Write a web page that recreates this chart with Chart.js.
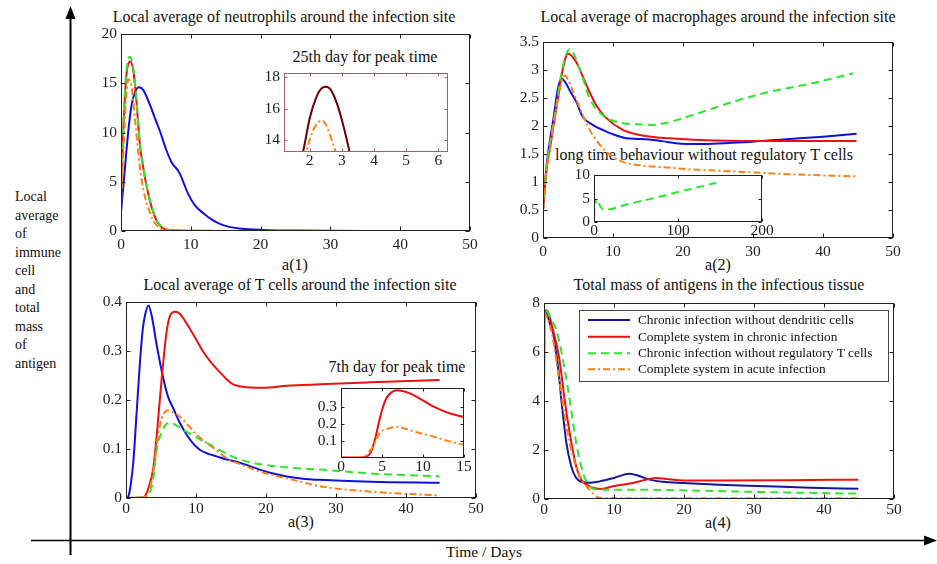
<!DOCTYPE html>
<html><head><meta charset="utf-8">
<script src="https://cdn.jsdelivr.net/npm/chart.js@4/dist/chart.umd.min.js"></script>
<style>
body{margin:0;background:#fff;width:937px;height:564px;overflow:hidden;position:relative;font-family:"Liberation Serif",serif;color:#111}
.c{position:absolute}
.t{position:absolute;white-space:nowrap;transform:translate(-50%,-50%);line-height:1;font-size:16px}
.s{font-size:16px}
.u{font-size:15.5px}
#ylab{position:absolute;left:15px;top:188px;font-size:14px;line-height:18.5px}
</style></head><body>
<svg width="937" height="564" style="position:absolute;left:0;top:0">
<line x1="70.5" y1="16" x2="70.5" y2="555" stroke="#000" stroke-width="2"/>
<polygon points="70.5,6 65.5,19 75.5,19" fill="#000"/>
<line x1="31" y1="540.5" x2="926" y2="540.5" stroke="#000" stroke-width="1.5"/>
<polygon points="937,540.5 924,535.5 924,545.5" fill="#000"/>
</svg>
<div id="ylab">Local<br>average<br>of<br>immune<br>cell<br>and<br>total<br>mass<br>of<br>antigen</div>
<div class="t" style="left:284px;top:17px">Local average of neutrophils around the infection site</div>
<div class="t" style="left:718px;top:17px">Local average of macrophages around the infection site</div>
<div class="t" style="left:300px;top:285px">Local average of T cells around the infection site</div>
<div class="t" style="left:719px;top:285px">Total mass of antigens in the infectious tissue</div>
<div class="t" style="left:365px;top:57px">25th day for peak time</div>
<div class="t" style="left:704px;top:155px">long time behaviour without regulatory T cells</div>
<div class="t" style="left:397px;top:367px">7th day for peak time</div>
<div class="t s" style="left:295px;top:265px">a(1)</div>
<div class="t s" style="left:718px;top:265px">a(2)</div>
<div class="t s" style="left:301px;top:522px">a(3)</div>
<div class="t s" style="left:718px;top:523px">a(4)</div>
<div class="t u" style="left:484px;top:552px">Time / Days</div>
<script>
// ---------------- DATA ----------------
const seriesNames = ['Chronic infection without dendritic cells','Complete system in chronic infection','Chronic infection without regulatory T cells','Complete system in acute infection'];
const timeTicks = [0,10,20,30,40,50];
const neutTicks = [0,5,10,15,20];
const macTicks = [0,0.5,1,1.5,2,2.5,3,3.5];
const tcellTicks = [0,0.1,0.2,0.3,0.4];
const antiTicks = [0,2,4,6,8];
const inset1XTicks = [2,3,4,5,6], inset1YTicks = [14,16,18];
const inset2XTicks = [0,100,200], inset2YTicks = [0,5,10];
const inset3XTicks = [0,5,10,15], inset3YTicks = [0.1,0.2,0.3];

// a(1) neutrophils
const neutBlue = [[0,2],[0.3,4.2],[0.7,7.5],[1.1,10.5],[1.5,12.7],[2,14.1],[2.6,14.6],[3.2,14.3],[4.15,12.8],[5,11.2],[5.6,10.1],[6.4,8.4],[7.3,6.9],[8.3,6.0],[8.8,5.2],[9.6,3.8],[10.6,2.6],[11.8,1.8],[12.9,1.2],[14,0.78],[15.5,0.42],[17,0.25],[19,0.14],[21,0.08],[25,0.04],[30,0.02],[35,0.01],[45,0]];
const neutRed = [[0,4],[0.33,10.3],[0.8,16],[1.35,17.2],[1.8,16.1],[2.2,13.3],[2.7,8.8],[3.2,6.4],[3.7,4.4],[4.4,2.4],[5.1,1.05],[5.6,0.55],[6.1,0.25],[7,0.1],[8,0.05],[10,0.02],[17,0]];
const neutGreen = [[0,3],[0.33,10.6],[0.8,16.4],[1.3,17.7],[1.8,16.3],[2.2,13.4],[2.7,8.9],[3.2,6.5],[3.7,4.5],[4.4,2.5],[5.1,1.1],[5.6,0.6],[6.1,0.27],[7,0.1],[8,0.05],[10,0.03],[16,0]];
const neutOrange = [[0,2.8],[0.33,7.9],[0.57,11.6],[0.8,14.2],[1.05,15.4],[1.5,14.7],[2,11.3],[2.7,6.5],[3.2,4.2],[3.7,2.8],[4.6,1.1],[5.6,0.27],[6.5,0.08],[8,0.03],[17,0]];
// inset of a(1)
const insetNeutMaroon = [[1.6,12],[1.79,13.27],[2.0,15.4],[2.2,16.7],[2.35,17.25],[2.5,17.38],[2.65,17.2],[2.85,16.3],[3.05,14.9],[3.24,13.27],[3.35,12.2]];
const insetNeutOrange = [[1.85,12.8],[1.95,13.7],[2.1,14.6],[2.25,15.1],[2.38,15.25],[2.5,15.0],[2.62,14.4],[2.72,13.8],[2.81,13.27],[2.9,12.6]];

// a(2) macrophages
const macBlue = [[0,0.5],[0.48,1.25],[1,1.75],[1.43,2.08],[2.14,2.67],[2.6,2.85],[3.2,2.78],[3.8,2.64],[4.76,2.43],[5.7,2.16],[7.1,2.02],[9.05,1.9],[10.5,1.83],[11.9,1.78],[13.5,1.77],[15.2,1.76],[17,1.73],[19,1.69],[20.5,1.68],[23,1.68],[27,1.7],[30,1.72],[34.3,1.76],[40,1.81],[44.8,1.86]];
const macRed = [[0,0.5],[0.48,1.2],[1,1.6],[1.43,1.95],[2.14,2.5],[2.8,3.0],[3.57,3.29],[4.76,3.14],[6.2,2.73],[7.6,2.37],[9.05,2.14],[11.4,1.93],[13.8,1.84],[16,1.8],[18,1.78],[22.4,1.75],[30,1.73],[44.8,1.73]];
const macGreen = [[0,0.5],[0.48,1.25],[1,1.7],[1.43,2.0],[2.14,2.55],[2.8,3.05],[3.8,3.37],[5.24,3.02],[6.67,2.49],[8.57,2.19],[11.4,2.05],[13.8,2.03],[15.5,2.02],[17,2.04],[18.6,2.09],[22,2.22],[27.1,2.43],[32,2.6],[38,2.75],[44.3,2.94]];
const macOrange = [[0,0.5],[0.48,1.2],[1,1.6],[1.43,1.95],[2.14,2.5],[2.6,2.75],[3.1,2.9],[4.3,2.61],[5.7,2.19],[7.1,1.84],[9.05,1.54],[11.4,1.36],[13.8,1.3],[17.6,1.26],[22,1.22],[27.1,1.19],[35,1.14],[44.8,1.1]];
// inset of a(2)
const insetMacGreen = [[0,1],[1.5,4.8],[3,4.2],[5,4.6],[7,3.5],[12.7,2.6],[40,3.8],[80,5.5],[120,7.3],[145.7,8.4]];

// a(3) T cells
const tcBlue = [[0,0],[0.33,0.003],[0.7,0.03],[1.05,0.074],[1.5,0.17],[2,0.278],[2.4,0.345],[2.7,0.372],[3.2,0.393],[3.67,0.372],[4.4,0.311],[5.33,0.244],[6,0.207],[6.76,0.183],[7.7,0.153],[8.67,0.129],[9.6,0.111],[10.6,0.098],[11.8,0.09],[12.95,0.085],[14.3,0.079],[15.8,0.074],[17.5,0.066],[19.1,0.058],[21,0.05],[22.95,0.044],[25,0.04],[27.7,0.037],[35,0.033],[44.8,0.031]];
const tcRed = [[0,0],[2.5,0.002],[3,0.012],[3.5,0.035],[3.9,0.061],[4.4,0.129],[5.1,0.244],[5.8,0.339],[6.3,0.372],[7,0.38],[7.7,0.376],[8.4,0.362],[9.14,0.345],[10.1,0.322],[11.05,0.298],[12.2,0.276],[13.4,0.257],[14.4,0.242],[15.3,0.232],[16.2,0.228],[17.2,0.226],[19.6,0.225],[23,0.229],[27.7,0.232],[35,0.236],[44.8,0.241]];
const tcGreen = [[0,0],[2.5,0.002],[3.2,0.008],[3.8,0.03],[4.4,0.1],[5.1,0.135],[5.7,0.15],[6.3,0.154],[7.3,0.147],[8.7,0.135],[10.5,0.12],[12.5,0.105],[14,0.093],[15.8,0.081],[18,0.072],[20.6,0.066],[24,0.061],[27.7,0.058],[35,0.05],[44.8,0.044]];
const tcOrange = [[0,0],[2.5,0.002],[3.2,0.01],[3.9,0.054],[4.6,0.129],[5.1,0.162],[5.6,0.176],[6.05,0.179],[6.8,0.175],[7.7,0.166],[8.9,0.148],[10.1,0.129],[11.3,0.115],[12.5,0.102],[14.4,0.081],[16.5,0.068],[19.1,0.054],[21.5,0.045],[23.9,0.037],[27.7,0.024],[35,0.013],[44.8,0.005]];
// inset of a(3)
const insetTcRed = [[0,0.003],[2.5,0.003],[3.2,0.01],[3.7,0.04],[4.2,0.12],[4.76,0.237],[5.2,0.31],[5.6,0.355],[6.2,0.385],[6.8,0.395],[7.5,0.391],[8.4,0.377],[9.5,0.35],[10.5,0.322],[11.3,0.3],[12.3,0.278],[13.3,0.26],[15,0.239]];
const insetTcOrange = [[0,0.003],[2.5,0.003],[3,0.012],[3.33,0.031],[3.94,0.07],[4.4,0.12],[4.76,0.149],[5.5,0.168],[6.79,0.182],[8,0.168],[9.5,0.147],[11.3,0.125],[13,0.1],[15,0.077]];

// a(4) antigens
const agBlue = [[0,4],[0.05,7.6],[0.3,7.6],[0.8,7.2],[1.29,6.78],[2,5.41],[2.48,4.05],[3.2,2.29],[3.9,1.33],[4.6,0.86],[5.6,0.68],[6.5,0.66],[7.95,0.72],[10,0.86],[12.2,1.03],[13.5,0.95],[15.1,0.79],[17,0.7],[19.9,0.65],[25,0.58],[31.8,0.52],[38,0.46],[44.9,0.42]];
const agRed = [[0,4],[0.05,7.6],[0.4,7.7],[1.29,6.9],[2.2,5.7],[2.95,4.05],[3.67,2.7],[4.6,1.33],[5.33,0.79],[6.5,0.52],[7.3,0.44],[8.2,0.41],[9.86,0.52],[12.7,0.65],[14,0.75],[16,0.86],[17.5,0.82],[19.9,0.76],[25,0.76],[35,0.77],[44.9,0.79]];
const agGreen = [[0,4.5],[0.05,7.6],[0.33,7.66],[1,7.35],[1.76,6.9],[2.7,5.7],[3.67,4.05],[4.6,2.29],[5.57,1.06],[6.3,0.6],[7,0.42],[8,0.38],[9,0.38],[12.7,0.38],[17,0.37],[22.2,0.34],[30,0.29],[38,0.25],[44.9,0.22]];
const agOrange = [[0,7.66],[0.6,7.3],[1.29,6.5],[2.24,4.73],[3.2,2.97],[4.14,1.74],[5.1,0.93],[6.5,0.38],[7.5,0.1],[8.5,0.04],[15,0.03],[44.9,0.03]];

// ---------------- STYLE ----------------
const FONT = "'Liberation Serif', 'Times New Roman', serif";
Chart.defaults.font.family = FONT;
const COL = {blue:'#1010e0', navy:'#16169c', red:'#ee1010', green:'#2ee62e', orange:'#ff8010', maroon:'#6a0000'};
const DASH = {solid:[], dash:[8,5], dashdot:[7,3,2,3]};

function ds(pairs, color, dash, order, label, w){
  return {label: label||'', data: pairs.map(([x,y])=>({x,y})), borderColor: color, borderWidth: w||2,
    borderDash: dash, order: order, pointRadius: 0, fill:false, cubicInterpolationMode:'monotone'};
}

const framePlugin = {
  id:'frame',
  afterDraw(chart, args, opts){
    const {ctx, chartArea:a} = chart;
    ctx.save();
    ctx.setLineDash([]);
    ctx.strokeStyle = opts.color || '#222'; ctx.lineWidth = 1;
    const L=Math.round(a.left)+0.5, R=Math.round(a.right)-0.5, T=Math.round(a.top)+0.5, B=Math.round(a.bottom)-0.5;
    ctx.strokeRect(L,T,R-L,B-T);
    const len = opts.tick || 4;
    ctx.beginPath();
    chart.scales.x.ticks.forEach(t=>{const p=Math.round(chart.scales.x.getPixelForValue(t.value))+0.5; ctx.moveTo(p,B); ctx.lineTo(p,B-len); ctx.moveTo(p,T); ctx.lineTo(p,T+len);});
    chart.scales.y.ticks.forEach(t=>{const p=Math.round(chart.scales.y.getPixelForValue(t.value))+0.5; ctx.moveTo(L,p); ctx.lineTo(L+len,p); ctx.moveTo(R,p); ctx.lineTo(R-len,p);});
    ctx.stroke();
    ctx.restore();
  }
};

const legendPlugin = {
  id:'boxlegend',
  afterDraw(chart, args, opts){
    if(!opts || !opts.show) return;
    const {ctx, chartArea:a} = chart;
    const x0 = a.left + opts.x, y0 = a.top + opts.y;
    ctx.save();
    ctx.fillStyle = '#fff';
    ctx.fillRect(x0, y0, opts.w, opts.h);
    ctx.strokeStyle = '#444'; ctx.lineWidth = 1; ctx.setLineDash([]);
    ctx.strokeRect(Math.round(x0)+0.5, Math.round(y0)+0.5, opts.w, opts.h);
    ctx.font = opts.font; ctx.textBaseline = 'middle'; ctx.textAlign='left';
    chart.data.datasets.forEach((d,i)=>{
      const yy = y0 + opts.rows[i];
      ctx.strokeStyle = d.borderColor; ctx.lineWidth = d.borderWidth; ctx.setLineDash(d.borderDash||[]);
      ctx.beginPath(); ctx.moveTo(x0+opts.lx0, yy); ctx.lineTo(x0+opts.lx1, yy); ctx.stroke();
      ctx.fillStyle = '#111';
      ctx.fillText(d.label, x0+opts.tx, yy+0.5);
    });
    ctx.restore();
  }
};

function makeChart(box, pad, xr, yr, xt, yt, datasets, extra){
  const div = document.createElement('div'); div.className='c';
  div.style.left = (box.l - pad.l)+'px'; div.style.top = (box.t - pad.t)+'px';
  const w = box.r-box.l+pad.l+pad.r, h = box.b-box.t+pad.t+pad.b;
  const cv = document.createElement('canvas'); cv.width=w; cv.height=h; cv.style.width=w+'px'; cv.style.height=h+'px';
  div.appendChild(cv); document.body.appendChild(div);
  const tickFont = {family:FONT, size: extra.fs || 15.5};
  return new Chart(cv, {
    type:'line',
    data:{datasets},
    options:{
      responsive:false, animation:false, devicePixelRatio:1,
      layout:{padding:{left:0, top:pad.t, right:pad.r, bottom:0}},
      plugins:{legend:{display:false}, tooltip:{enabled:false},
        frame:{color: extra.frame || '#222', tick: extra.tick || 4},
        boxlegend: extra.legend || {show:false}},
      scales:{
        x:{type:'linear', min:xr[0], max:xr[1],
          afterBuildTicks: s => { s.ticks = xt.map(v=>({value:v})); },
          ticks:{font:tickFont, color:'#222', padding: extra.xpad||0, maxRotation:0, autoSkip:false, callback: v=>String(v)},
          grid:{display:false, drawTicks:false}, border:{display:false},
          afterFit: s => { s.height = pad.b; }},
        y:{type:'linear', min:yr[0], max:yr[1],
          afterBuildTicks: s => { s.ticks = yt.map(v=>({value:v})); },
          ticks:{font:tickFont, color:'#222', padding:4, autoSkip:false, callback: v=>String(v)},
          grid:{display:false, drawTicks:false}, border:{display:false},
          afterFit: s => { s.width = pad.l; }}
      }
    },
    plugins:[framePlugin, legendPlugin]
  });
}

// a(1)
makeChart({l:121,t:34,r:470,b:231},{l:40,t:14,r:16,b:26},[0,50],[0,20],timeTicks,neutTicks,[
  ds(neutBlue,COL.blue,DASH.solid,3), ds(neutRed,COL.red,DASH.solid,2), ds(neutGreen,COL.green,DASH.dash,1), ds(neutOrange,COL.orange,DASH.dashdot,0)
],{xpad:5});
// a(2)
makeChart({l:543,t:42,r:893,b:238},{l:40,t:14,r:16,b:26},[0,50],[0,3.5],timeTicks,macTicks,[
  ds(macBlue,COL.blue,DASH.solid,3), ds(macRed,COL.red,DASH.solid,2), ds(macGreen,COL.green,DASH.dash,1), ds(macOrange,COL.orange,DASH.dashdot,0)
],{xpad:5});
// a(3)
makeChart({l:126,t:302,r:476,b:498},{l:40,t:14,r:16,b:24},[0,50],[0,0.4],timeTicks,tcellTicks,[
  ds(tcBlue,COL.blue,DASH.solid,3), ds(tcRed,COL.red,DASH.solid,2), ds(tcGreen,COL.green,DASH.dash,1), ds(tcOrange,COL.orange,DASH.dashdot,0)
],{xpad:2});
// a(4)
makeChart({l:544,t:303,r:894,b:499},{l:40,t:14,r:16,b:24},[0,50],[0,8],timeTicks,antiTicks,[
  ds(agBlue,COL.navy,DASH.solid,3,seriesNames[0]), ds(agRed,COL.red,DASH.solid,2,seriesNames[1]), ds(agGreen,COL.green,DASH.dash,1,seriesNames[2]), ds(agOrange,COL.orange,DASH.dashdot,0,seriesNames[3])
],{xpad:2, legend:{show:true, x:35, y:7, w:309, h:71, rows:[10,26.7,43.3,59.3], lx0:9, lx1:51, tx:59, font:"13.3px "+FONT}});
// inset a(1)
makeChart({l:284,t:72,r:448,b:152},{l:24,t:12,r:12,b:20},[1.2,6.3],[13.27,18.23],inset1XTicks,inset1YTicks,[
  ds(insetNeutMaroon,COL.maroon,DASH.solid,1), ds(insetNeutOrange,COL.orange,DASH.dashdot,0)
],{frame:'#a86060', tick:3});
// inset a(2)
makeChart({l:594,t:174,r:762,b:222},{l:24,t:12,r:16,b:20},[0,200],[0,10],inset2XTicks,inset2YTicks,[
  ds(insetMacGreen,COL.green,DASH.dash,0)
],{tick:3});
// inset a(3)
makeChart({l:341,t:387,r:464,b:458},{l:30,t:12,r:12,b:20},[0,15],[0,0.407],inset3XTicks,inset3YTicks,[
  ds(insetTcRed,COL.red,DASH.solid,1), ds(insetTcOrange,COL.orange,DASH.dashdot,0)
],{tick:3});
</script>
</body></html>
